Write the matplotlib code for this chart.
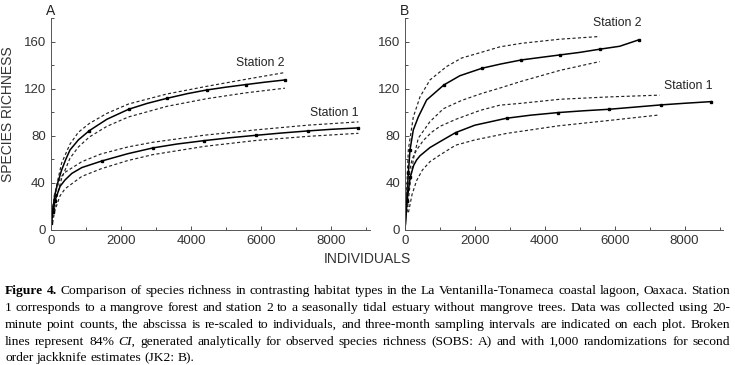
import numpy as np
import matplotlib.pyplot as plt
from matplotlib.ticker import MultipleLocator

# ---- Panel A (SOBS) ----
a_s2_x = [20, 60, 120, 200, 313, 430, 551, 789, 1103, 1600, 2219, 2750, 3313, 3900, 4448, 5000, 5571, 6100, 6676]
a_s2_y = [8, 18, 30, 40, 51, 60, 68, 76.5, 84.4, 94, 102.5, 107.5, 111.8, 115.8, 118.9, 121.3, 123.5, 125.5, 127.4]
a_s2_up_x = [20, 100, 200, 313, 551, 789, 1103, 1600, 2219, 3313, 4448, 5571, 6676]
a_s2_up_y = [10, 28, 42, 57, 73, 83, 90.5, 99, 107, 115.5, 122, 128, 133.7]
a_s2_lo_x = [50, 120, 200, 313, 551, 789, 1103, 1600, 2219, 3313, 4448, 5571, 6676]
a_s2_lo_y = [10, 20, 31, 44, 61, 70.5, 79, 88, 96, 105, 111.5, 116.5, 120.4]

a_s1_x = [20, 60, 123, 266, 409, 600, 886, 1457, 2200, 2913, 3600, 4380, 5100, 5846, 6600, 7322, 8000, 8770]
a_s1_y = [6, 15, 25, 37, 42.5, 48, 53, 58.6, 64.8, 69.7, 73, 75.9, 78.3, 80.4, 82.4, 84.1, 85.5, 86.7]
a_s1_up_x = [20, 100, 266, 409, 886, 1437, 2200, 2913, 4380, 5846, 7322, 8770]
a_s1_up_y = [10, 28, 44, 49, 58, 64.6, 70.5, 74.5, 80.5, 85, 89, 91.8]
a_s1_lo_x = [50, 123, 266, 409, 886, 1437, 2200, 2913, 4380, 5846, 7322, 8770]
a_s1_lo_y = [6, 17, 29, 35, 45.5, 52, 59, 64, 71, 76, 79.5, 82.1]

# ---- Panel B (JK2) ----
b_s2_x = [0, 48, 95, 143, 238, 381, 619, 1114, 1571, 2210, 2750, 3333, 3900, 4448, 5000, 5571, 6143, 6686]
b_s2_y = [0, 25, 48, 68, 85, 96, 110.4, 123.2, 131, 137.4, 141, 144.4, 146.6, 148.7, 150.8, 153.5, 156, 161.4]
b_s2_up_x = [30, 95, 238, 429, 714, 1190, 1619, 2143, 2714, 3333, 4429, 5571]
b_s2_up_y = [20, 68, 96, 113, 127.4, 138.8, 146, 150.5, 155.5, 158.5, 162, 164.3]
b_s2_lo_x = [60, 150, 238, 381, 714, 1100, 1619, 2200, 2714, 3300, 4430, 5570]
b_s2_lo_y = [15, 40, 60, 78, 92, 103, 110, 116, 120.5, 126, 135.5, 143]

b_s1_x = [0, 60, 150, 250, 333, 429, 714, 1000, 1448, 2000, 2905, 3600, 4381, 5100, 5838, 6600, 7314, 8000, 8762]
b_s1_y = [0, 25, 45, 55, 59.5, 63, 70, 75, 82.7, 89, 94.9, 97.5, 99.7, 101.2, 102.5, 104.4, 106.2, 107.6, 109]
b_s1_up_x = [30, 100, 200, 333, 524, 762, 1000, 1457, 2143, 2714, 3300, 4429, 5838, 7286]
b_s1_up_y = [20, 45, 60, 68, 76, 83, 88, 94, 101.5, 106, 107.5, 111, 113, 114.5]
b_s1_lo_x = [100, 200, 333, 500, 714, 1000, 1448, 2000, 2905, 4381, 5838, 7286]
b_s1_lo_y = [15, 30, 42, 51, 58, 63.7, 72, 76.5, 82, 88.4, 93, 97.7]

# sampling-interval marks (three months) + first days
a_s2_marks = [0, 1, 2, 8, 10, 12, 14, 16, 18]
a_s1_marks = [0, 1, 2, 7, 9, 11, 13, 15, 17]
b_s2_marks = [1, 2, 3, 7, 9, 11, 13, 15, 17]
b_s1_marks = [1, 2, 8, 10, 12, 14, 16, 18]

caption_lines = [
    "Figure 4. Comparison of species richness in contrasting habitat types in the La Ventanilla-Tonameca coastal lagoon, Oaxaca. Station",
    "1 corresponds to a mangrove forest and station 2 to a seasonally tidal estuary without mangrove trees. Data was collected using 20-",
    "minute point counts, the abscissa is re-scaled to individuals, and three-month sampling intervals are indicated on each plot. Broken",
    "lines represent 84% CI, generated analytically for observed species richness (SOBS: A) and with 1,000 randomizations for second",
    "order jackknife estimates (JK2: B).",
]

plt.rcParams['font.family'] = ['Liberation Sans', 'DejaVu Sans']

fig = plt.figure(figsize=(7.35, 3.65), dpi=100)
W, H = 735, 365
axA = fig.add_axes([50.7 / W, 1 - 230 / H, 319.3 / W, 212 / H])
axB = fig.add_axes([405 / W, 1 - 230 / H, 318 / W, 212 / H])

dash = (0, (2.6, 2.0))


def draw_panel(ax, curves, letter, labels):
    for x, y, marks, ux, uy, lx, ly in curves:
        ax.plot(ux, uy, color='#222222', lw=0.85, linestyle=dash)
        ax.plot(lx, ly, color='#222222', lw=0.85, linestyle=dash)
        ax.plot(x, y, color='black', lw=1.1, marker='s', markersize=1.6,
                markevery=marks, markerfacecolor='black', markeredgecolor='black')
    for (tx, ty, s) in labels:
        ax.text(tx, ty, s, fontsize=8.8, ha='center', va='center', color='#222222')
    ax.set_xlim(0, 9100)
    ax.set_ylim(0, 180)
    ax.set_xticks([0, 2000, 4000, 6000, 8000])
    ax.set_yticks([0, 40, 80, 120, 160])
    ax.xaxis.set_minor_locator(MultipleLocator(1000))
    ax.yaxis.set_minor_locator(MultipleLocator(20))
    ax.tick_params(which='both', direction='in', labelsize=9.5, colors='#333333', width=0.6)
    ax.tick_params(which='major', length=3)
    ax.tick_params(which='minor', length=2)
    for side in ('top', 'right'):
        ax.spines[side].set_visible(False)
    for side in ('left', 'bottom'):
        ax.spines[side].set_linewidth(0.7)
        ax.spines[side].set_color('#555555')
    ax.text(0, 1.0, letter, transform=ax.transAxes, fontsize=10, ha='center', va='bottom',
            color='#222222')


draw_panel(axA,
           [(a_s2_x, a_s2_y, a_s2_marks, a_s2_up_x, a_s2_up_y, a_s2_lo_x, a_s2_lo_y),
            (a_s1_x, a_s1_y, a_s1_marks, a_s1_up_x, a_s1_up_y, a_s1_lo_x, a_s1_lo_y)],
           'A', [(5980, 142, 'Station 2'), (8070, 99.7, 'Station 1')])
draw_panel(axB,
           [(b_s2_x, b_s2_y, b_s2_marks, b_s2_up_x, b_s2_up_y, b_s2_lo_x, b_s2_lo_y),
            (b_s1_x, b_s1_y, b_s1_marks, b_s1_up_x, b_s1_up_y, b_s1_lo_x, b_s1_lo_y)],
           'B', [(6066, 175.6, 'Station 2'), (8095, 122.3, 'Station 1')])

axA.set_ylabel('SPECIES RICHNESS', fontsize=10, color='#333333')
axA.yaxis.set_label_coords(-0.112, 0.545)
fig.text(367 / W, 1 - 259 / H, 'INDIVIDUALS', fontsize=10, ha='center', va='center', color='#333333')

# caption, justified word by word
renderer = fig.canvas.get_renderer()
x0, x1 = 5, 730
cap_size = 9.7
line_y = [291, 308, 325, 342, 358]
for i, line in enumerate(caption_lines):
    words = line.split(' ')
    texts = []
    for j, w in enumerate(words):
        weight = 'bold' if (i == 0 and j < 2) else 'normal'
        style = 'italic' if w.startswith('CI') else 'normal'
        t = fig.text(0, 1 - line_y[i] / H, w, fontsize=cap_size, family='Liberation Serif',
                     fontweight=weight, fontstyle=style, va='center', ha='left')
        texts.append(t)
    widths = [t.get_window_extent(renderer).width for t in texts]
    if i < len(caption_lines) - 1:
        gap = (x1 - x0 - sum(widths)) / (len(words) - 1)
    else:
        gap = cap_size * 0.25 * 100 / 72
    x = x0
    for t, w in zip(texts, widths):
        t.set_x(x / W)
        x += w + gap

fig.savefig('out.png', dpi=100)
